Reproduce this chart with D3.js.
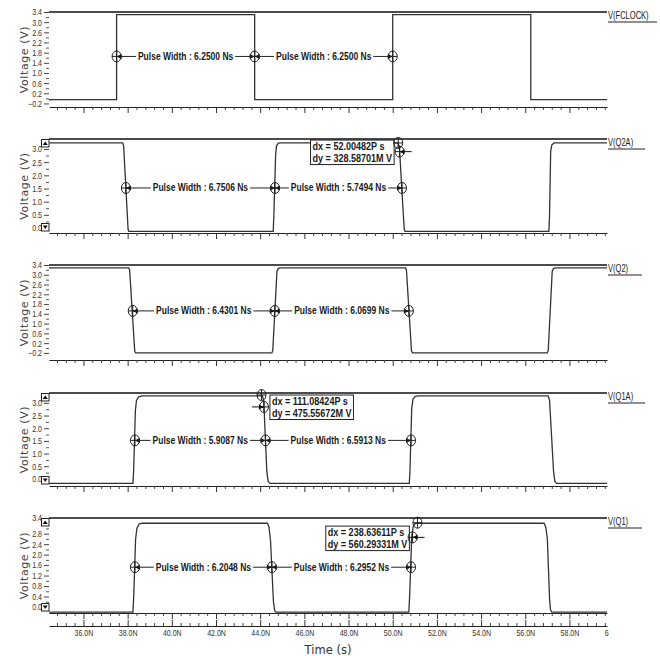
<!DOCTYPE html>
<html>
<head>
<meta charset="utf-8">
<script src="https://cdn.jsdelivr.net/npm/d3@7"></script>
<style>
  body { margin: 0; background: #fff; }
  svg { display: block; }
</style>
</head>
<body>
<div id="chart"></div>
<script>
// ---- data (time in ns, voltage in V) ----
const traceNames = ["V(FCLOCK)", "V(Q2A)", "V(Q2)", "V(Q1A)", "V(Q1)"];

const fclockWave = [[34.44, -0.05], [37.5, -0.05], [37.5, 3.3], [43.75, 3.3], [43.75, -0.05], [50.0, -0.05], [50.0, 3.3],
  [56.25, 3.3], [56.25, -0.05], [59.7, -0.05]];
const q2aWave = [[34.44, 3.23], [37.78, 3.23], [37.82, 3.1], [38.02, -0.05], [38.05, -0.13], [44.59, -0.13],
  [44.62, 0.5], [44.7, 2.8], [44.74, 3.12], [44.82, 3.22], [44.95, 3.23], [50.22, 3.23], [50.3, 3.1],
  [50.52, -0.05], [50.56, -0.13], [57.07, -0.13], [57.1, 0.5], [57.15, 2.9], [57.2, 3.15], [57.3, 3.23], [59.7, 3.23]];
const q2Wave = [[34.44, 3.28], [38.05, 3.28], [38.09, 3.2], [38.32, -0.12], [38.36, -0.2], [44.53, -0.2],
  [44.57, -0.1], [44.76, 3.15], [44.82, 3.26], [44.92, 3.28], [50.58, 3.28], [50.62, 3.2], [50.85, -0.12],
  [50.9, -0.2], [57.0, -0.2], [57.04, -0.1], [57.22, 3.15], [57.28, 3.26], [57.4, 3.28], [59.7, 3.28]];
const q1aWave = [[34.44, -0.18], [38.24, -0.18], [38.27, 0.3], [38.35, 2.7], [38.4, 3.1], [38.5, 3.24],
  [38.65, 3.28], [44.1, 3.28], [44.16, 3.1], [44.3, 0.3], [44.36, -0.1], [44.45, -0.18], [50.75, -0.18],
  [50.78, 0.3], [50.86, 2.8], [50.92, 3.15], [51.02, 3.26], [51.14, 3.28], [57.04, 3.28], [57.1, 3.1],
  [57.28, 0.3], [57.34, -0.1], [57.42, -0.18], [59.7, -0.18]];
const q1Wave = [[34.44, -0.2], [38.24, -0.2], [38.28, 0.5], [38.36, 2.6], [38.42, 3.0], [38.52, 3.17],
  [38.65, 3.2], [44.33, 3.2], [44.4, 3.05], [44.47, 2.5], [44.6, 0.2], [44.66, -0.15], [44.72, -0.2],
  [50.73, -0.2], [50.77, 0.5], [50.86, 2.7], [50.92, 3.05], [51.0, 3.18], [51.1, 3.2], [56.85, 3.2],
  [56.93, 3.05], [57.0, 2.6], [57.1, 0.3], [57.14, -0.1], [57.2, -0.2], [59.7, -0.2]];

// pulse width cursors: edge times and readouts between them
const fclockEdges = [37.5, 43.75, 50.0];
const q2aEdges = [37.92, 44.67, 50.42];
const q2Edges = [38.23, 44.66, 50.73];
const q1aEdges = [38.33, 44.24, 50.83];
const q1Edges = [38.33, 44.53, 50.83];
const fclockWidths = ["6.2500", "6.2500"];
const q2aWidths = ["6.7506", "5.7494"];
const q2Widths = ["6.4301", "6.0699"];
const q1aWidths = ["5.9087", "6.5913"];
const q1Widths = ["6.2048", "6.2952"];
const pulseLevels = [1.65, 1.52, 1.52, 1.52, 1.52];

// dx / dy cursor pairs [t, v] and readouts
const q2aCursors = [[50.25, 3.23], [50.31, 2.9]];
const q1aCursors = [[44.06, 3.31], [44.17, 2.84]];
const q1Cursors = [[51.12, 3.22], [50.9, 2.66]];
const q2aDelta = ["dx = 52.00482P s", "dy = 328.58701M V"];
const q1aDelta = ["dx = 111.08424P s", "dy = 475.55672M V"];
const q1Delta = ["dx = 238.63611P s", "dy = 560.29331M V"];

// axis ticks
const timeTicks = [36, 38, 40, 42, 44, 46, 48, 50, 52, 54, 56, 58, 60];
const timeLabels = ["36.0N", "38.0N", "40.0N", "42.0N", "44.0N", "46.0N", "48.0N", "50.0N", "52.0N",
  "54.0N", "56.0N", "58.0N", "60.0N"];
const ticksWide = [-0.2, 0.2, 0.6, 1.0, 1.4, 1.8, 2.2, 2.6, 3.0, 3.4];
const ticksHalf = [0.0, 0.5, 1.0, 1.5, 2.0, 2.5, 3.0];
const ticksQ1 = [0.0, 0.4, 0.8, 1.2, 1.6, 2.0, 2.4, 2.8, 3.4];

// ---- layout ----
const W = 660, H = 656;
const plotLeft = 49, plotRight = 607;
const font = "'Liberation Sans','DejaVu Sans',sans-serif";

const panels = [
  { top: 12, bottom: 107, dom: [-0.34, 3.4], ticks: ticksWide, wave: fclockWave, edges: fclockEdges, widths: fclockWidths, buttons: false },
  { top: 139, bottom: 233, dom: [-0.19, 3.38], ticks: ticksHalf, wave: q2aWave, edges: q2aEdges, widths: q2aWidths, buttons: true,
    cursors: q2aCursors, delta: q2aDelta, box: [46.28, 3.34], arrowDir: 1 },
  { top: 265, bottom: 360, dom: [-0.49, 3.4], ticks: ticksWide, wave: q2Wave, edges: q2Edges, widths: q2Widths, buttons: false },
  { top: 393, bottom: 486, dom: [-0.28, 3.39], ticks: ticksHalf, wave: q1aWave, edges: q1aEdges, widths: q1aWidths, buttons: true,
    cursors: q1aCursors, delta: q1aDelta, box: [44.44, 3.31], arrowDir: -1 },
  { top: 518, bottom: 613, dom: [-0.23, 3.4], ticks: ticksQ1, wave: q1Wave, edges: q1Edges, widths: q1Widths, buttons: true,
    cursors: q1Cursors, delta: q1Delta, box: [46.97, 3.09], arrowDir: 1 }
];

const svg = d3.select("#chart").append("svg")
  .attr("width", W)
  .attr("height", H)
  .style("background", "#fff");

const x = d3.scaleLinear().domain([34.44, 59.7]).range([plotLeft, plotRight]);

const minorTime = d3.range(34.8, 59.7, 0.4).filter(function (t) { return Math.abs(t / 2 - Math.round(t / 2)) > 0.01; });

// squeeze text horizontally so it looks like the scope's narrow font
function squeeze(sel, k) {
  sel.each(function () {
    const n = this;
    const len = n.getComputedTextLength();
    d3.select(n).attr("textLength", len * k).attr("lengthAdjust", "spacingAndGlyphs");
  });
  return sel;
}

// marker circle with crosshair
function marker(g, cx, cy) {
  g.append("ellipse")
    .attr("cx", cx).attr("cy", cy)
    .attr("rx", 4.5).attr("ry", 5.5)
    .attr("fill", "none").attr("stroke", "#222").attr("stroke-width", 1);
  g.append("line")
    .attr("x1", cx - 4.5).attr("x2", cx + 4.5).attr("y1", cy).attr("y2", cy)
    .attr("stroke", "#222");
  g.append("line")
    .attr("x1", cx).attr("x2", cx).attr("y1", cy - 5.5).attr("y2", cy + 5.5)
    .attr("stroke", "#222");
}

// arrowhead with tip at (cx,cy); dir=+1 body on the right, -1 body on the left
function arrowHead(g, cx, cy, dir) {
  g.append("path")
    .attr("d", "M" + cx + "," + cy + "L" + (cx + dir * 5) + "," + (cy - 2.5) + "L" + (cx + dir * 5) + "," + (cy + 2.5) + "Z")
    .attr("fill", "#111");
}

panels.forEach(function (p, i) {
  const g = svg.append("g");
  const y = d3.scaleLinear().domain(p.dom).range([p.bottom, p.top]);

  // top border
  g.append("line")
    .attr("x1", plotLeft).attr("x2", plotRight)
    .attr("y1", p.top).attr("y2", p.top)
    .attr("stroke", "#111").attr("stroke-width", 1.3);

  // bottom time axis of the panel (no labels)
  const xMajor = g.append("g")
    .attr("transform", "translate(0," + p.bottom + ")")
    .call(d3.axisBottom(x).tickValues(timeTicks.filter(function (t) { return t < 59.7; })).tickSizeInner(6).tickSizeOuter(0).tickFormat(""));
  xMajor.select(".domain").attr("stroke", "#222").attr("stroke-width", 1.2);
  xMajor.selectAll(".tick line").attr("stroke", "#333");
  const xMinor = g.append("g")
    .attr("transform", "translate(0," + p.bottom + ")")
    .call(d3.axisBottom(x).tickValues(minorTime).tickSizeInner(3).tickSizeOuter(0).tickFormat(""));
  xMinor.select(".domain").remove();
  xMinor.selectAll(".tick line").attr("stroke", "#444");

  // voltage axis
  const yAxis = g.append("g")
    .attr("transform", "translate(" + plotLeft + ",0)")
    .call(d3.axisLeft(y).tickValues(p.ticks).tickSize(5).tickPadding(2).tickFormat(d3.format(".1f")));
  yAxis.select(".domain").remove();
  yAxis.selectAll(".tick line").attr("stroke", "#444");
  yAxis.selectAll("text")
    .style("font-family", font).style("font-size", "9px").attr("fill", "#333");
  squeeze(yAxis.selectAll("text"), 0.78);
  const step = p.ticks[1] - p.ticks[0];
  const minorV = p.ticks.slice(0, -1).map(function (v) { return v + step / 2; }).filter(function (v) { return v < p.dom[1]; });
  const yMinor = g.append("g")
    .attr("transform", "translate(" + plotLeft + ",0)")
    .call(d3.axisLeft(y).tickValues(minorV).tickSize(3).tickFormat(""));
  yMinor.select(".domain").remove();
  yMinor.selectAll(".tick line").attr("stroke", "#555");

  g.append("text")
    .attr("transform", "translate(24," + ((p.top + p.bottom) / 2) + ") rotate(-90)")
    .attr("text-anchor", "middle")
    .attr("dy", "0.35em")
    .style("font-family", "'DejaVu Sans',sans-serif")
    .style("font-size", "11px")
    .style("letter-spacing", "0.6px")
    .attr("fill", "#444")
    .text("Voltage (V)");

  // waveform
  g.append("path")
    .datum(p.wave)
    .attr("fill", "none")
    .attr("stroke", "#333")
    .attr("stroke-width", 1.3)
    .attr("d", d3.line()
      .x(function (d) { return x(d[0]); })
      .y(function (d) { return y(d[1]); }));

  // legend (narrowed with a scale transform so its box stays honest)
  const leg = g.append("text")
    .attr("transform", "translate(" + (plotRight + 1) + "," + (p.top + 3.5) + ") scale(0.72,1)")
    .attr("dy", "0.35em")
    .style("font-family", font)
    .style("font-size", "10.5px")
    .attr("fill", "#222")
    .text(traceNames[i]);
  const lw = leg.node().getComputedTextLength() * 0.72;
  g.append("line")
    .attr("x1", plotRight + 1).attr("x2", plotRight + 1 + Math.min(49, Math.max(34, lw + 12)))
    .attr("y1", p.top + 10).attr("y2", p.top + 10)
    .attr("stroke", "#222");

  // pulse width readouts
  const cy = y(pulseLevels[i]);
  p.widths.forEach(function (w, k) {
    const x0 = x(p.edges[k]), x1 = x(p.edges[k + 1]);
    g.append("line")
      .attr("x1", x0).attr("x2", x1).attr("y1", cy).attr("y2", cy)
      .attr("stroke", "#222");
    const bg = g.append("rect").attr("fill", "#fff");
    const t = g.append("text")
      .attr("x", (x0 + x1) / 2)
      .attr("y", cy)
      .attr("dy", "0.35em")
      .attr("text-anchor", "middle")
      .style("font-family", font)
      .style("font-size", "10px")
      .style("font-weight", "bold")
      .attr("fill", "#1a1a1a")
      .text("Pulse Width : " + w + " Ns");
    squeeze(t, 0.85);
    const tw = t.node().getComputedTextLength();
    bg.attr("x", (x0 + x1) / 2 - tw / 2 - 2).attr("y", cy - 5)
      .attr("width", tw + 4).attr("height", 10);
    arrowHead(g, x0, cy, 1);
    arrowHead(g, x1, cy, -1);
  });
  p.edges.forEach(function (e) { marker(g, x(e), cy); });

  // scroll buttons
  if (p.buttons) {
    [[p.top + 0.5, true], [p.bottom - 9.5, false]].forEach(function (b) {
      const by = b[0];
      g.append("rect")
        .attr("x", plotLeft - 7.5).attr("y", by)
        .attr("width", 7.5).attr("height", 7.5)
        .attr("fill", "#fff").attr("stroke", "#222").attr("stroke-width", 1);
      const cx = plotLeft - 3.75;
      const tri = b[1]
        ? "M" + (cx - 2.5) + "," + (by + 5.5) + "L" + (cx + 2.5) + "," + (by + 5.5) + "L" + cx + "," + (by + 2) + "Z"
        : "M" + (cx - 2.5) + "," + (by + 2) + "L" + (cx + 2.5) + "," + (by + 2) + "L" + cx + "," + (by + 5.5) + "Z";
      g.append("path").attr("d", tri).attr("fill", "#111");
    });
  }

  // dx/dy readout
  if (p.delta) {
    const bx = x(p.box[0]), by = y(p.box[1]);
    const box = g.append("rect").attr("fill", "#fff").attr("stroke", "#222").attr("stroke-width", 1);
    let maxW = 0;
    p.delta.forEach(function (s, k) {
      const t = g.append("text")
        .attr("x", bx + 2)
        .attr("y", by + 6 + k * 12.5)
        .attr("dy", "0.35em")
        .style("font-family", font)
        .style("font-size", "10.5px")
        .style("font-weight", "bold")
        .attr("fill", "#1a1a1a")
        .text(s);
      squeeze(t, 0.86);
      maxW = Math.max(maxW, t.node().getComputedTextLength());
    });
    box.attr("x", bx).attr("y", by).attr("width", maxW + 4).attr("height", 24.5);

    const c0 = p.cursors[0], c1 = p.cursors[1];
    marker(g, x(c0[0]), y(c0[1]));
    marker(g, x(c1[0]), y(c1[1]));
    const ax = x(c1[0]), ay = y(c1[1]);
    g.append("line")
      .attr("x1", ax).attr("x2", ax + p.arrowDir * 12)
      .attr("y1", ay).attr("y2", ay)
      .attr("stroke", "#111");
    arrowHead(g, ax, ay, p.arrowDir);
  }
});

// shared time axis (clip keeps only the "6" of the last label, as on the scope)
svg.append("defs").append("clipPath").attr("id", "timeclip")
  .append("rect").attr("x", 0).attr("y", -12).attr("width", 609).attr("height", 30);

const tAxis = svg.append("g")
  .attr("transform", "translate(0,626)")
  .attr("clip-path", "url(#timeclip)")
  .call(d3.axisBottom(x).tickValues(timeTicks).tickSizeInner(-6).tickSizeOuter(0).tickPadding(4)
    .tickFormat(function (d, k) { return timeLabels[k]; }));
tAxis.select(".domain").attr("stroke", "#222").attr("stroke-width", 1.2);
tAxis.selectAll(".tick line").attr("stroke", "#333");
tAxis.selectAll("text").style("font-family", font).style("font-size", "9px").attr("fill", "#333");
squeeze(tAxis.selectAll("text"), 0.78);
const tMinor = svg.append("g")
  .attr("transform", "translate(0,626)")
  .call(d3.axisBottom(x).tickValues(minorTime).tickSizeInner(-3).tickSizeOuter(0).tickFormat(""));
tMinor.select(".domain").remove();
tMinor.selectAll(".tick line").attr("stroke", "#444");

svg.append("text")
  .attr("x", 328)
  .attr("y", 650)
  .attr("dy", "0.35em")
  .attr("text-anchor", "middle")
  .style("font-family", "'DejaVu Sans',sans-serif")
  .style("font-size", "11.5px")
  .attr("fill", "#333")
  .text("Time (s)");
</script>
</body>
</html>
